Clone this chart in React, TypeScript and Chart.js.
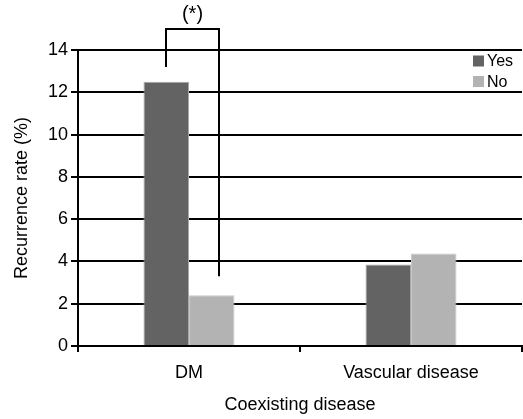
import React, { useEffect, useRef } from "react";
import { Chart, registerables } from "chart.js";

Chart.register(...registerables);

const categories = ["DM", "Vascular disease"];
const yesValues = [12.5, 3.85];
const noValues = [2.4, 4.37];
const seriesLabels = ["Yes", "No"];
const seriesColors = ["#636363", "#b3b3b3"];
const yTicks = [0, 2, 4, 6, 8, 10, 12, 14];
const bracketLabel = "(*)";
const bracketTop = 15;
const bracketLeftBottom = 13.2;
const bracketRightBottom = 3.3;

const FONT = "'Liberation Sans', Arial, sans-serif";

const overlayPlugin = {
  id: "overlay",
  afterDatasetsDraw(chart: any) {
    const ctx = chart.ctx;
    const y = chart.scales.y;
    const m0 = chart.getDatasetMeta(0).data[0];
    const m1 = chart.getDatasetMeta(1).data[0];
    const xl = Math.round(m0.x);
    const xr = Math.round(m1.x + m1.width * 0.15);
    const yt = Math.round(y.getPixelForValue(bracketTop));
    ctx.save();
    ctx.strokeStyle = "#000";
    ctx.lineWidth = 2;
    ctx.beginPath();
    ctx.moveTo(xl, y.getPixelForValue(bracketLeftBottom));
    ctx.lineTo(xl, yt);
    ctx.lineTo(xr, yt);
    ctx.lineTo(xr, y.getPixelForValue(bracketRightBottom));
    ctx.stroke();
    ctx.fillStyle = "#000";
    ctx.font = "20px " + FONT;
    ctx.textAlign = "center";
    ctx.textBaseline = "middle";
    ctx.fillText(bracketLabel, (xl + xr) / 2, yt - 15);

    // legend
    const lx = chart.chartArea.right - 49;
    const ly0 = chart.chartArea.top + 11;
    ctx.textAlign = "left";
    ctx.font = "16px " + FONT;
    seriesLabels.forEach((lab, i) => {
      const cy = ly0 + i * 20.5;
      ctx.fillStyle = seriesColors[i];
      ctx.fillRect(lx, cy - 5.5, 11, 11);
      ctx.fillStyle = "#000";
      ctx.fillText(lab, lx + 14, cy + 1);
    });
    ctx.restore();
  },
};

export default function App() {
  const ref = useRef<HTMLCanvasElement>(null);
  useEffect(() => {
    document.body.style.margin = "0";
    const chart = new Chart(ref.current!, {
      type: "bar",
      data: {
        labels: categories,
        datasets: [
          {
            label: seriesLabels[0],
            data: yesValues,
            backgroundColor: seriesColors[0],
            borderColor: "#a8a8a8",
            borderWidth: 1,
            barPercentage: 1,
            categoryPercentage: 0.41,
          },
          {
            label: seriesLabels[1],
            data: noValues,
            backgroundColor: seriesColors[1],
            borderColor: "#c8c8c8",
            borderWidth: 1,
            barPercentage: 1,
            categoryPercentage: 0.41,
          },
        ],
      },
      options: {
        responsive: false,
        animation: false,
        devicePixelRatio: 1,
        layout: { padding: { top: 50, right: 1, left: 0, bottom: 0 } },
        plugins: { legend: { display: false }, tooltip: { enabled: false } },
        scales: {
          x: {
            offset: true,
            grid: {
              offset: true,
              drawOnChartArea: false,
              drawTicks: true,
              tickLength: 6,
              color: "#000",
              lineWidth: 2,
            },
            border: { display: true, color: "#000", width: 2 },
            ticks: { color: "#000", font: { size: 18, family: FONT }, padding: 10 },
            title: {
              display: true,
              text: "Coexisting disease",
              color: "#000",
              font: { size: 18, family: FONT },
              padding: { top: 4, bottom: 3 },
            },
            afterFit(s: any) {
              s.height = 73;
            },
          },
          y: {
            min: 0,
            max: 14,
            afterBuildTicks(s: any) {
              s.ticks = yTicks.map((v) => ({ value: v }));
            },
            grid: { color: "#000", lineWidth: 2, tickLength: 7 },
            border: { display: true, color: "#000", width: 2 },
            ticks: { color: "#000", font: { size: 18, family: FONT }, padding: 3 },
            title: {
              display: true,
              text: "Recurrence rate (%)",
              color: "#000",
              font: { size: 18, family: FONT },
              padding: { top: 11, bottom: 4 },
            },
            afterFit(s: any) {
              s.width = 78;
            },
          },
        },
      },
      plugins: [overlayPlugin],
    });
    return () => chart.destroy();
  }, []);
  return (
    <div style={{ position: "absolute", left: 0, top: 0, width: 523, height: 419 }}>
      <canvas ref={ref} width={523} height={419} />
    </div>
  );
}
